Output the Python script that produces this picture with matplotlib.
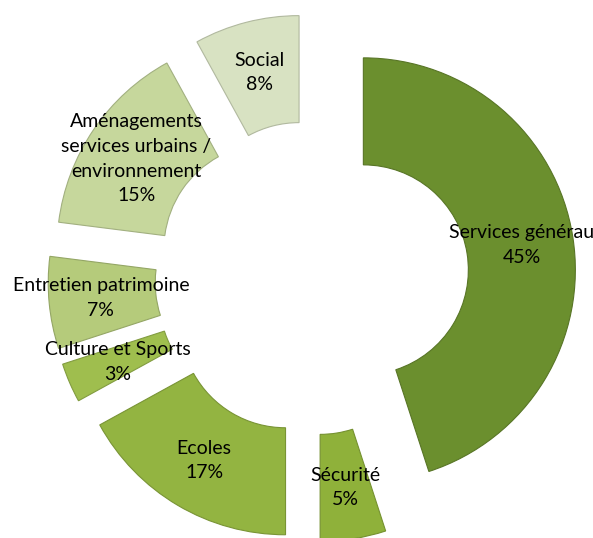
import matplotlib
matplotlib.use('Agg')
import matplotlib.pyplot as plt
import numpy as np
from matplotlib.colors import to_rgb

plt.rcParams['font.family'] = ['Lato', 'DejaVu Sans']

# données
categories = ['Services générau', 'Sécurité', 'Ecoles', 'Culture et Sports',
              'Entretien patrimoine', 'Aménagements\nservices urbains /\nenvironnement', 'Social']
parts = [45, 5, 17, 3, 7, 15, 8]
colors = ['#6b8f2e', '#8fb13a', '#93b441', '#9fbe4e', '#b5cb7b', '#c6d79c', '#d8e2c2']

W, H = 593, 538
fig = plt.figure(figsize=(W / 100, H / 100), dpi=100)
ax = fig.add_axes([0, 0, 1, 1])

R = 212
edge = [tuple(c * 0.82 for c in to_rgb(col)) for col in colors]
# explode est en unités de données (pas en fraction du rayon)
wedges, _ = ax.pie(parts, radius=R, center=(312, 260), startangle=90, counterclock=False,
                   explode=[52] * len(parts), colors=colors, frame=True,
                   wedgeprops=dict(width=107, linewidth=0.8))
ax.set_xlim(0, W)
ax.set_ylim(0, H)
ax.set_aspect('equal')
ax.axis('off')

for w, ec in zip(wedges, edge):
    w.set_edgecolor(ec)

# étiquettes au milieu de chaque part
total = sum(parts)
for w, cat, p in zip(wedges, categories, parts):
    ang = np.deg2rad((w.theta1 + w.theta2) / 2)
    r = 0.755 * R
    x = w.center[0] + r * np.cos(ang)
    y = w.center[1] + r * np.sin(ang)
    ax.text(x, y, f'{cat}\n{round(100 * p / total)}%', ha='center', va='center',
            fontsize=14, color='black', linespacing=1.55)

fig.savefig('out.png', dpi=100)
